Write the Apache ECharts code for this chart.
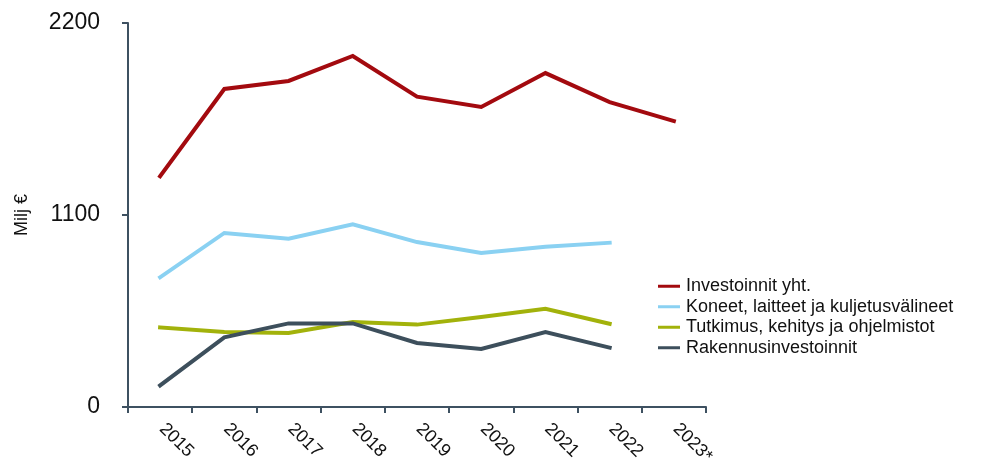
<!DOCTYPE html>
<html>
<head>
<meta charset="utf-8">
<script src="https://cdn.jsdelivr.net/npm/echarts@6/dist/echarts.min.js"></script>
<style>
  html, body { margin: 0; padding: 0; background: #fff; }
  #main { width: 982px; height: 461px; }
</style>
</head>
<body>
<div id="main"></div>
<script>
// vuodet
const years = ['2015', '2016', '2017', '2018', '2019', '2020', '2021', '2022', '2023*'];
const yTicks = [0, 1100, 2200];

// sarjat (Milj €)
const investoinnitYht = [1322, 1822, 1868, 2011, 1778, 1719, 1913, 1747, 1638];
const koneet = [743, 997, 964, 1047, 945, 882, 918, 941];
const tutkimus = [456, 430, 424, 487, 472, 516, 563, 477];
const rakennus = [124, 399, 479, 479, 367, 332, 430, 340];

const axisColor = '#3e5161';
const font = 'Arial, "Liberation Sans", sans-serif';

let myChart = echarts.init(document.getElementById('main'));

function lineSeries(name, data, color) {
    return {
        name: name,
        type: 'line',
        data: data,
        symbol: 'none',
        lineStyle: { width: 4, color: color, cap: 'square', join: 'miter' },
        itemStyle: { color: color }
    };
}

let option = {
    animation: false,
    grid: { left: 128, right: 276, top: 23, bottom: 54, outerBoundsMode: 'none', containLabel: false },
    legend: {
        orient: 'vertical',
        left: 653,
        top: 272,
        icon: 'rect',
        itemWidth: 22,
        itemHeight: 3,
        itemGap: 2,
        textStyle: { fontFamily: font, fontSize: 18, lineHeight: 18.5, color: '#111', padding: [0, 0, 0, 1] },
        data: ['Investoinnit yht.', 'Koneet, laitteet ja kuljetusvälineet', 'Tutkimus, kehitys ja ohjelmistot', 'Rakennusinvestoinnit']
    },
    xAxis: {
        type: 'category',
        data: years,
        boundaryGap: true,
        axisLine: { lineStyle: { color: axisColor, width: 2 } },
        axisTick: { show: true, length: 6, lineStyle: { color: axisColor, width: 2 } },
        axisLabel: {
            rotate: -45,
            interval: 0,
            margin: 17,
            padding: [0, 0, 0, 3],
            fontFamily: font,
            fontSize: 18,
            color: '#111'
        }
    },
    yAxis: {
        type: 'value',
        min: yTicks[0],
        max: yTicks[yTicks.length - 1],
        interval: 1100,
        name: 'Milj €',
        nameLocation: 'middle',
        nameGap: 97,
        nameRotate: 90,
        nameTextStyle: { fontFamily: font, fontSize: 18, color: '#111' },
        splitLine: { show: false },
        axisLine: { show: true, lineStyle: { color: axisColor, width: 2 } },
        axisTick: { show: true, length: 6, lineStyle: { color: axisColor, width: 2 } },
        axisLabel: {
            fontFamily: font, fontSize: 23, color: '#111', margin: 28,
            formatter: (v) => String(v)
        }
    },
    series: [
        lineSeries('Investoinnit yht.', investoinnitYht, '#a30a0f'),
        lineSeries('Koneet, laitteet ja kuljetusvälineet', koneet, '#8ad1f2'),
        lineSeries('Tutkimus, kehitys ja ohjelmistot', tutkimus, '#a2b20b'),
        lineSeries('Rakennusinvestoinnit', rakennus, '#3d4f5c')
    ]
};
myChart.setOption(option);
</script>
</body>
</html>
